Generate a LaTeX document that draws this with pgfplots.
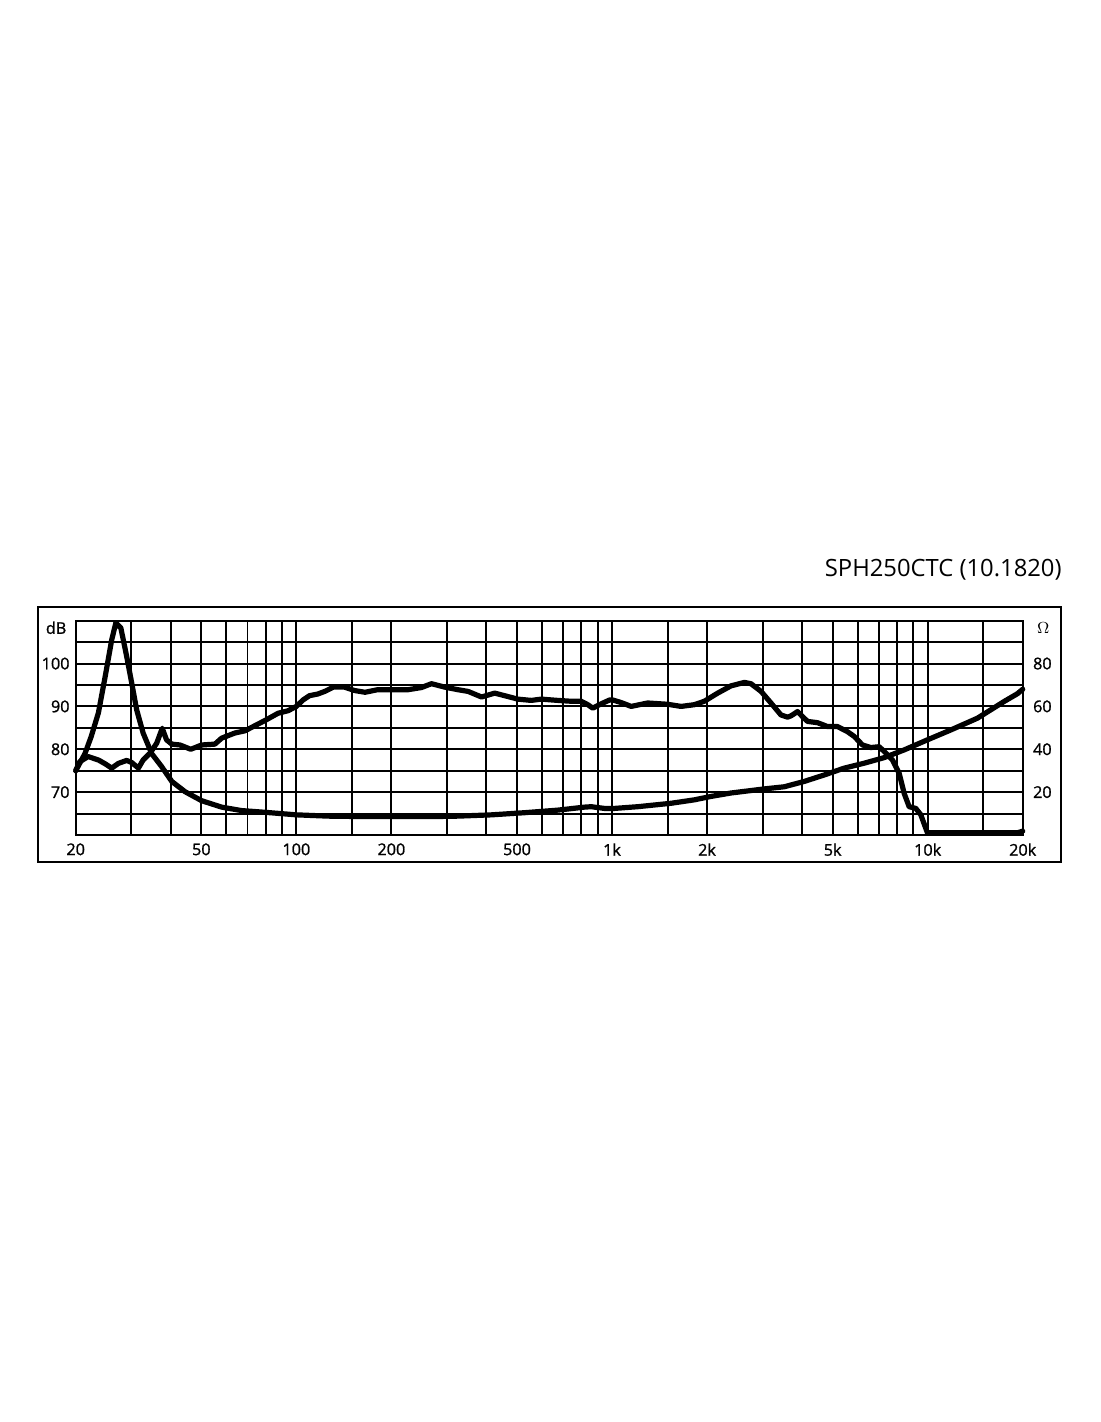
\documentclass[border=0pt]{standalone}
\usepackage{fontspec}
\setmainfont{Open Sans}
\newfontfamily\lblfont[FakeBold=1.2]{Open Sans}
\usepackage{pgfplots}
\usepackage{pgfplotstable}
\pgfplotsset{compat=1.18}
\pgfplotstableread{
f spl
20 75
20.6 77.1
21.9 78.3
23.6 77.5
24.8 76.6
26.0 75.6
27.3 76.7
29.0 77.4
30.1 76.9
31.6 75.6
32.7 77.5
34.4 79.1
36.1 81.4
37.6 84.9
38.8 82.2
40.3 81.2
42.8 81.0
46.3 80.0
50.1 81.0
55.2 81.2
58.0 82.6
63.9 83.8
68.7 84.3
73.9 85.5
80.4 86.9
87.5 88.4
94.2 89.0
100 90.0
105 91.5
110 92.5
117 92.9
123 93.5
131 94.5
142 94.5
153 93.7
165 93.3
181 93.9
200 93.9
226 93.9
249 94.4
268 95.3
295 94.5
325 93.9
350 93.5
386 92.2
425 93.1
457 92.5
503 91.7
555 91.4
597 91.7
673 91.4
743 91.2
799 91.2
838 90.4
869 89.6
924 90.6
982 91.5
1005 91.5
1069 90.9
1150 90.0
1297 90.8
1500 90.5
1655 90.0
1823 90.4
1961 91.2
2161 93.1
2383 94.8
2625 95.6
2755 95.3
2966 93.5
3188 90.8
3430 88.0
3599 87.5
3690 87.8
3871 88.8
4015 87.6
4164 86.5
4478 86.2
4816 85.3
5180 85.3
5572 84.1
5849 83.0
6215 81.0
6606 80.4
7018 80.6
7280 79.5
7734 77.5
8120 74.4
8423 69.7
8735 66.6
9170 66.2
9512 64.7
9980 60.5
19230 60.5
20000 60.9
}\spltable
\pgfplotstableread{
f z
20 30
21.4 38
22.4 46
23.6 57
24.8 74
26.0 91
26.8 99
27.8 96.6
29.0 83.4
30.1 70.8
31.2 58.4
32.7 47.6
34.8 38
37.4 32
40.3 25
44.4 20.2
50.1 16
58 13
67 11.4
79.4 10.6
100 9.4
126 8.8
161 8.6
205 8.6
274 8.6
325 8.8
415 9.4
528 10.4
673 11.6
818 13.0
859 13.2
946 12.4
1018 12.4
1206 13.2
1538 14.8
1823 16.4
2059 18
2383 19.6
3035 21.5
3513 22.5
4065 25
4700 28
5439 31.2
6294 33.5
7280 36.1
8423 39.7
9980 44.4
11830 49
14370 54.5
15845 58.4
17460 62.3
19230 65.9
20000 68
}\ztable
\begin{document}
\begin{tikzpicture}[x=1pt,y=1pt]
\path[use as bounding box] (0,0) rectangle (550,711);
\draw[line width=1pt] (19,280) rectangle (530.5,407.5);
\node[anchor=base east, inner sep=0pt, font=\fontsize{11.9}{14}\selectfont] at (531,422.5) {SPH250CTC (10.1820)};
\begin{axis}[
  at={(37.85pt,293.5pt)}, anchor=south west, scale only axis,
  width=473.5pt, height=107.15pt,
  xmode=log, xmin=20, xmax=20000, ymin=60, ymax=110,
  clip=false,
  xtick={20,30,40,50,60,70,80,90,100,150,200,300,400,500,600,700,800,900,1000,1500,2000,3000,4000,5000,6000,7000,8000,9000,10000,15000,20000},
  xticklabels={20,,,50,,,,,100,,200,,,500,,,,,1k,,2k,,,5k,,,,,10k,,20k},
  ytick={60,65,70,75,80,85,90,95,100,105,110},
  yticklabels={,,70,,80,,90,,100,,},
  minor tick num=0,
  major tick length=0pt,
  grid=major,
  major grid style={black, line width=0.95pt},
  axis line style={black, line width=0.95pt},
  tick label style={font=\lblfont\fontsize{8.1}{10}\selectfont, inner sep=0pt},
  yticklabel style={anchor=east, xshift=-2.9pt},
  xticklabel style={anchor=north, yshift=-4pt},
]
\addplot[black, line width=2.6pt, line join=round, line cap=round] table[x=f, y=spl] {\spltable};
\node[anchor=east, inner sep=0pt, font=\lblfont\fontsize{8.1}{10}\selectfont] at (rel axis cs:0,0.967) [xshift=-4.5pt] {dB};
\end{axis}
\begin{axis}[
  at={(37.85pt,293.5pt)}, anchor=south west, scale only axis,
  width=473.5pt, height=107.15pt,
  xmode=log, xmin=20, xmax=20000, ymin=0, ymax=100,
  clip=false,
  axis x line=none,
  axis y line*=right,
  y axis line style={draw=none},
  ytick={20,40,60,80},
  yticklabels={20,40,60,80},
  major tick length=0pt,
  tick label style={font=\lblfont\fontsize{8.1}{10}\selectfont, inner sep=0pt},
  yticklabel style={anchor=west, xshift=5pt},
]
\addplot[black, line width=2.6pt, line join=round, line cap=round] table[x=f, y=z] {\ztable};
\node[anchor=west, inner sep=0pt, font=\fontsize{8.1}{10}\selectfont] at (rel axis cs:1,0.967) [xshift=7pt] {$\Omega$};
\end{axis}
\end{tikzpicture}
\end{document}
